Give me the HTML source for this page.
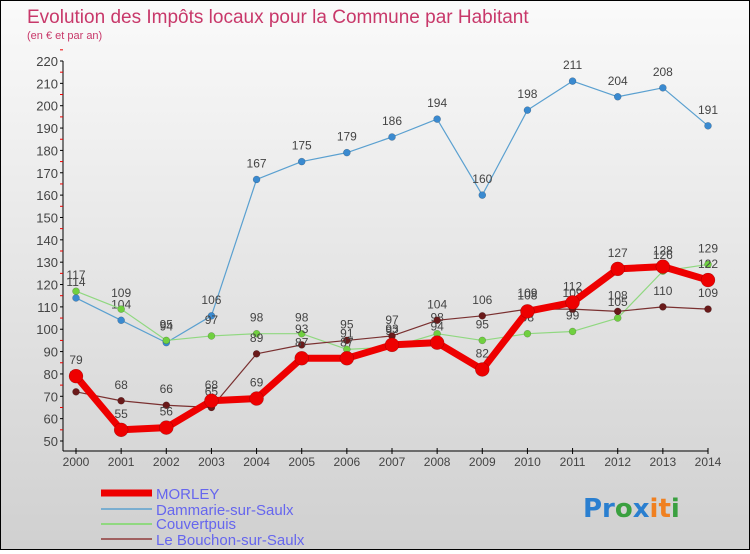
<!DOCTYPE html>
<html><head><meta charset="utf-8"><style>
body{margin:0;width:750px;height:550px;overflow:hidden;font-family:"Liberation Sans",sans-serif;}
#wrap{position:relative;width:748px;height:548px;border:1px solid #000;background:linear-gradient(#fafafa,#d0d0d0);}
</style></head><body>
<div id="wrap">
<svg id="chart" width="748" height="548" font-family="Liberation Sans, sans-serif">
<text x="26" y="22" font-size="19" fill="#c8386a">Evolution des Impôts locaux pour la Commune par Habitant</text>
<text x="26" y="38" font-size="11" fill="#c8386a">(en € et par an)</text>
<g id="axes"></g>
<g id="series"></g>
<g>
<line x1="100" y1="492" x2="151" y2="492" stroke="#e00" stroke-width="7"/>
<text x="155" y="498" font-size="15" fill="#6666ee">MORLEY</text>
<line x1="100" y1="508" x2="151" y2="508" stroke="#7aaed0" stroke-width="2"/>
<text x="155" y="514" font-size="15" fill="#6666ee">Dammarie-sur-Saulx</text>
<line x1="100" y1="523" x2="151" y2="523" stroke="#90d880" stroke-width="2"/>
<text x="155" y="528" font-size="15" fill="#6666ee">Couvertpuis</text>
<line x1="100" y1="538" x2="151" y2="538" stroke="#a06060" stroke-width="2"/>
<text x="155" y="544" font-size="15" fill="#6666ee">Le Bouchon-sur-Saulx</text>
</g>
<g font-size="26" font-family="DejaVu Sans, sans-serif" font-weight="bold">
<text x="582" y="516"><tspan fill="#2a7fd0">Pr</tspan><tspan fill="#3aa040">o</tspan><tspan fill="#2a7fd0">x</tspan><tspan fill="#f08020">it</tspan><tspan fill="#3aa040">i</tspan></text>
</g>
</svg>
</div>
<script>
const years=[2000,2001,2002,2003,2004,2005,2006,2007,2008,2009,2010,2011,2012,2013,2014];
const yTicks=[50,60,70,80,90,100,110,120,130,140,150,160,170,180,190,200,210,220];
const morley=[79,55,56,68,69,87,87,93,94,82,108,112,127,128,122];
const dammarie=[114,104,94,106,167,175,179,186,194,160,198,211,204,208,191];
const couvertpuis=[117,109,95,97,98,98,91,92,98,95,98,99,105,126,129];
const bouchon=[72,68,66,65,89,93,95,97,104,106,109,109,108,110,109];
const NS='http://www.w3.org/2000/svg';
function X(i){return 75+i*(707-75)/(years.length-1);}
function Y(v){return 440-(v-50)*(380/170);}
function mk(t,a,p){const e=document.createElementNS(NS,t);for(const k in a)e.setAttribute(k,a[k]);p.appendChild(e);return e;}
const ax=document.getElementById('axes');
const yl=mk('line',{x1:62,y1:Y(220),x2:62,y2:450,stroke:'#000'},ax);


yTicks.forEach(v=>{
 mk('line',{x1:59,y1:Y(v),x2:62,y2:Y(v),stroke:'#000'},ax);
 mk('line',{x1:59,y1:Y(v+5),x2:62,y2:Y(v+5),stroke:'#e00'},ax);
 const t=mk('text',{x:57,y:Y(v)+5,'font-size':13,fill:'#444','text-anchor':'end'},ax);
 t.textContent=v;
 
 
});
const xl=mk('line',{x1:62,y1:450,x2:707,y2:450,stroke:'#000'},ax);


years.forEach((yr,i)=>{
 mk('line',{x1:X(i),y1:447,x2:X(i),y2:453,stroke:'#000'},ax);
 const t=mk('text',{x:X(i),y:465,'font-size':12,fill:'#444','text-anchor':'middle'},ax);
 t.textContent=yr;
 
 
});
const sg=document.getElementById('series');
function draw(vals,name,color,w,r,dot){
 const g=mk('g',{},sg);
 
 
 const pl=mk('polyline',{points:vals.map((v,i)=>X(i)+','+Y(v)).join(' '),fill:'none',stroke:color,'stroke-width':w,'stroke-linejoin':'round'},g);
 
 
 vals.forEach((v,i)=>{
  const c=mk('circle',{cx:X(i),cy:Y(v),r:r,fill:dot,stroke:'rgba(0,0,0,0.3)','stroke-width':0.5},g);
  
  
  const t=mk('text',{x:X(i),y:Y(v)-12,'font-size':12,fill:'#444','text-anchor':'middle'},g);
  t.textContent=v;
  
  
 });
}
draw(dammarie,'dammarie','#5aa0d0',1.2,3.5,'#3a8ad0');
draw(couvertpuis,'couvertpuis','#90d880',1.2,3.5,'#70d040');
draw(bouchon,'bouchon','#7a3030',1.2,3.5,'#6a1a1a');
draw(morley,'morley','#ee0000',7,7,'#ee0000');
</script>
</body></html>
